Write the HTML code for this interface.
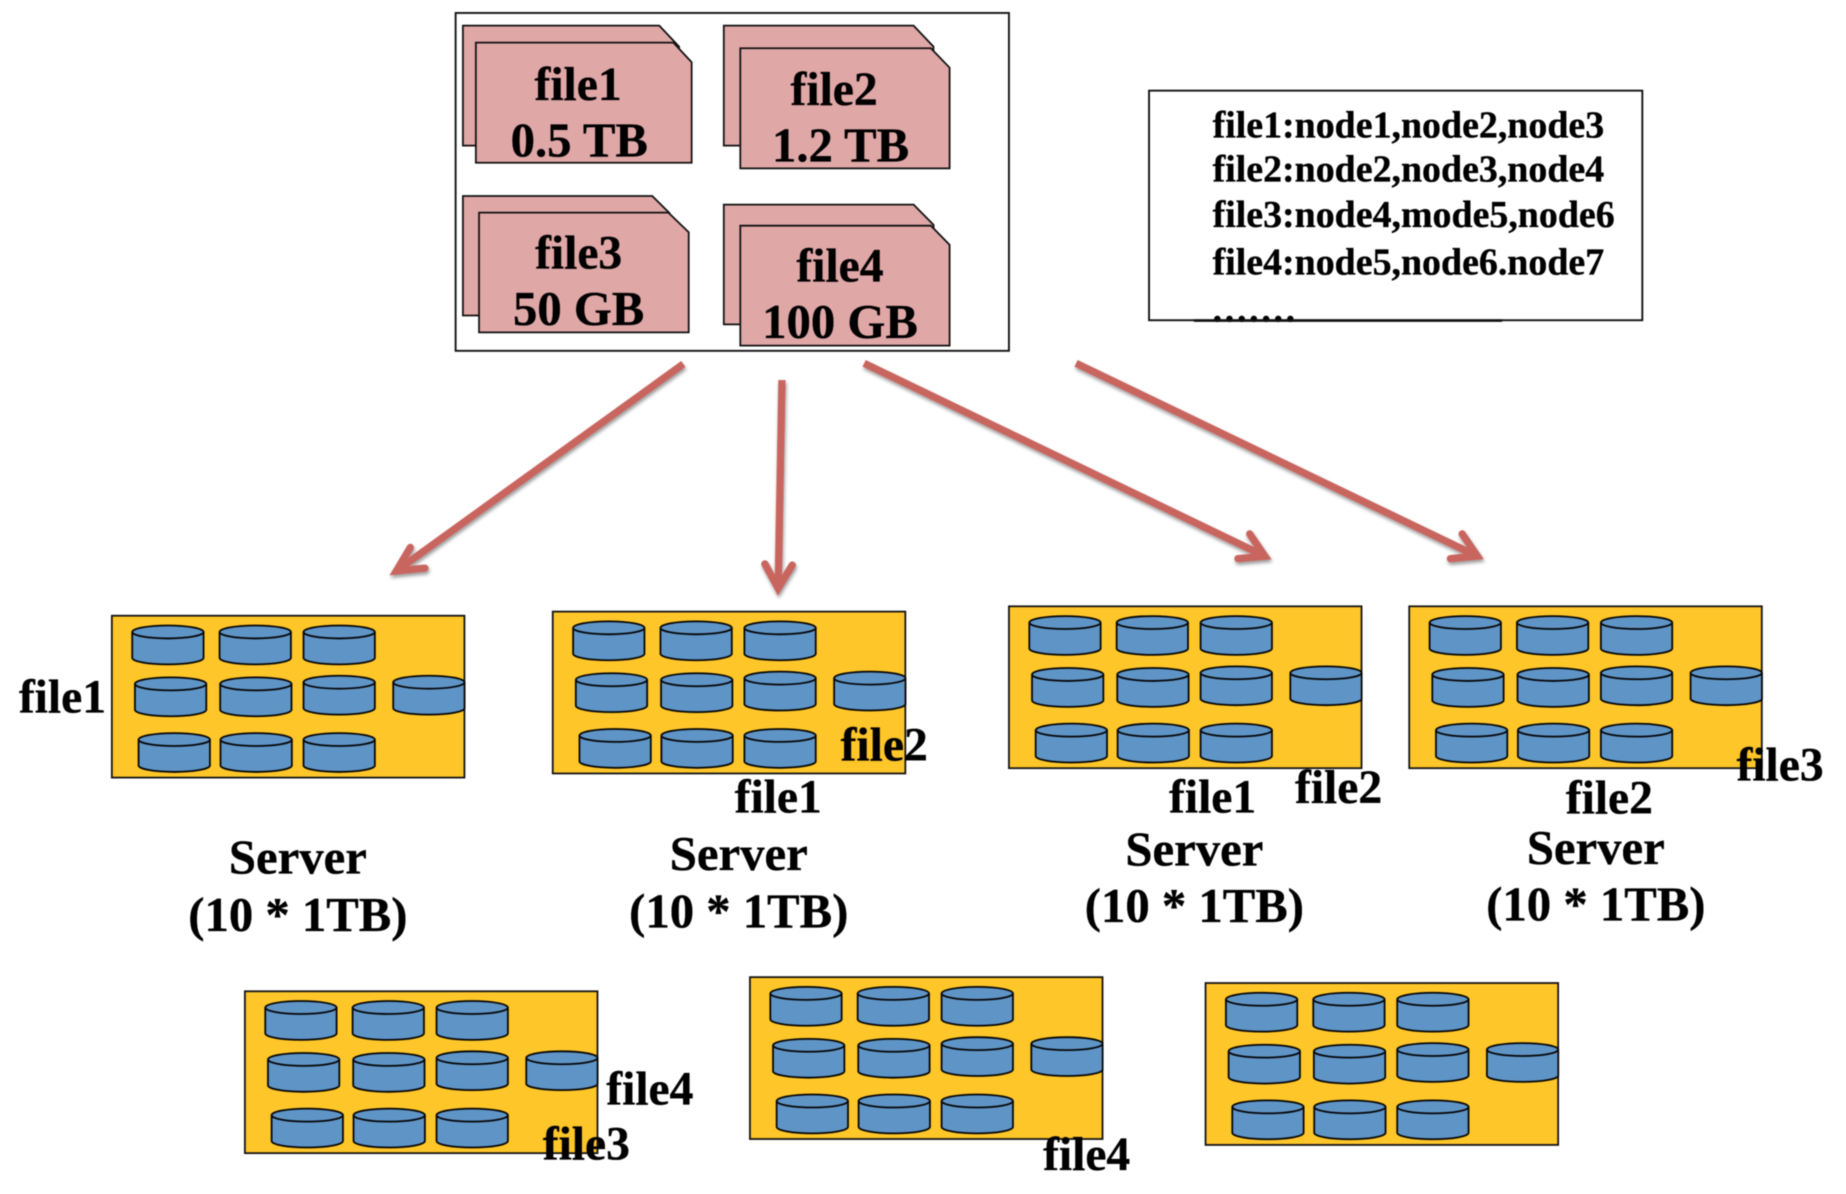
<!DOCTYPE html>
<html>
<head>
<meta charset="utf-8">
<style>
html,body{margin:0;padding:0;background:#fff;}
svg{display:block;filter:blur(0.5px);}
text{font-family:"Liberation Serif",serif;font-weight:bold;fill:#000;stroke:#000;stroke-width:0.3px;}
.t{font-size:40.4px;}
.b{font-size:41.4px;}
.m{text-anchor:middle;}
.l{font-size:32.2px;}
.f{fill:#E0A7A7;stroke:#111;stroke-width:1.5;}
.box{fill:#fff;stroke:#111;stroke-width:1.6;}
.srv{fill:#FFC629;stroke:#111;stroke-width:1.5;}
.cy{fill:#5F94C6;stroke:#050505;stroke-width:1.5;}
.a{fill:none;stroke:#C9655F;stroke-width:6.2;}
</style>
</head>
<body>
<svg width="1846" height="1194" viewBox="0 0 1568 1014.2" xmlns="http://www.w3.org/2000/svg">
<defs>
<filter id="sh" x="-20%" y="-20%" width="140%" height="140%">
<feDropShadow dx="0.8" dy="2.2" stdDeviation="1.6" flood-color="#000" flood-opacity="0.4"/>
</filter>
<g id="c"><path class="cy" d="M0,5.5A30.3,5.5 0 0 1 60.6,5.5V27.5A30.3,5.5 0 0 1 0,27.5Z"/><path class="cy" style="fill:none" d="M0,5.5A30.3,5.5 0 0 0 60.6,5.5"/></g>
<g id="s">
<rect class="srv" x="0" y="0" width="299.5" height="137.5"/>
<use href="#c" x="17.3" y="8.3"/><use href="#c" x="91.5" y="8.3"/><use href="#c" x="162.8" y="8.3"/>
<use href="#c" x="19.6" y="52.4"/><use href="#c" x="92" y="52.4"/><use href="#c" x="162.8" y="51"/><use href="#c" x="239" y="51"/>
<use href="#c" x="22.7" y="99.7"/><use href="#c" x="92.3" y="99.7"/><use href="#c" x="162.8" y="99.7"/>
</g>
</defs>

<!-- top file box -->
<rect class="box" x="387" y="11" width="470" height="287"/>
<path class="f" d="M393.2,21.8H560L576.8,39.6V123.7H393.2Z"/>
<path class="f" d="M404.2,36.2H572L587.5,52.9V138.2H404.2Z"/>
<path class="f" d="M614.8,21.8H776L792.9,39.6V123.7H614.8Z"/>
<path class="f" d="M628.8,41H790.7L806.6,57.5V143H628.8Z"/>
<path class="f" d="M393.2,166.5H554L568.7,181V268H393.2Z"/>
<path class="f" d="M406.9,180.6H567.7L585,197.3V282.3H406.9Z"/>
<path class="f" d="M614.8,173.8H776L793,191V275.5H614.8Z"/>
<path class="f" d="M628.8,191.7H790.7L806.6,208V293.6H628.8Z"/>
<text class="t m" x="491" y="85">file1</text>
<text class="b m" x="492" y="133">0.5 TB</text>
<text class="t m" x="708.5" y="89">file2</text>
<text class="b m" x="714" y="137">1.2 TB</text>
<text class="t m" x="491.5" y="228">file3</text>
<text class="b m" x="491.5" y="276">50 GB</text>
<text class="t m" x="713.5" y="239">file4</text>
<text class="b m" x="713.5" y="287">100 GB</text>

<!-- mapping box -->
<rect class="box" x="976" y="77" width="419" height="195"/>
<text class="l" x="1030" y="117">file1:node1,node2,node3</text>
<text class="l" x="1030" y="154">file2:node2,node3,node4</text>
<text class="l" x="1030" y="193">file3:node4,mode5,node6</text>
<text class="l" x="1030" y="233">file4:node5,node6.node7</text>
<text class="l" x="1030" y="273" style="letter-spacing:2.3px">.......</text>
<path d="M1014,272.3H1276" stroke="#111" stroke-width="2.2" fill="none"/>

<!-- arrows -->
<g filter="url(#sh)">
<path class="a" d="M580.4,309.2L338,484"/>
<polyline class="a" stroke-linecap="round" points="348.5,465 336.6,485 361,482.6"/>
<path class="a" d="M664.2,322.8L661,498"/>
<polyline class="a" stroke-linecap="round" points="649.7,479 660.9,499.7 673,480"/>
<path class="a" d="M734,308.6L1073,471.8"/>
<polyline class="a" stroke-linecap="round" points="1061.5,453.5 1074.5,472.5 1051.5,474.5"/>
<path class="a" d="M914,308.6L1253,471.6"/>
<polyline class="a" stroke-linecap="round" points="1242,453.5 1254.9,472.3 1232,474.5"/>
</g>

<!-- servers -->
<use href="#s" x="95" y="523"/>
<use href="#s" x="469.5" y="519.5"/>
<use href="#s" x="857" y="515"/>
<use href="#s" x="1197" y="515"/>
<use href="#s" x="208" y="842"/>
<use href="#s" x="637" y="830"/>
<use href="#s" x="1024" y="835"/>

<!-- labels -->
<text class="t" x="16" y="605">file1</text>
<text class="b m" x="253" y="742">Server</text>
<text class="b m" x="253" y="791">(10 * 1TB)</text>

<text class="t" x="714" y="646">file2</text>
<text class="t" x="624" y="690">file1</text>
<text class="b m" x="627.5" y="739">Server</text>
<text class="b m" x="627.5" y="788">(10 * 1TB)</text>

<text class="t" x="993" y="690">file1</text>
<text class="t" x="1100" y="682">file2</text>
<text class="b m" x="1014.5" y="735">Server</text>
<text class="b m" x="1014.5" y="783">(10 * 1TB)</text>

<text class="t" x="1330" y="691">file2</text>
<text class="t" x="1475" y="663">file3</text>
<text class="b m" x="1355.5" y="734">Server</text>
<text class="b m" x="1355.5" y="782">(10 * 1TB)</text>

<text class="t" x="515" y="938">file4</text>
<text class="t" x="461" y="985">file3</text>
<text class="t" x="886" y="994">file4</text>
</svg>
</body>
</html>
